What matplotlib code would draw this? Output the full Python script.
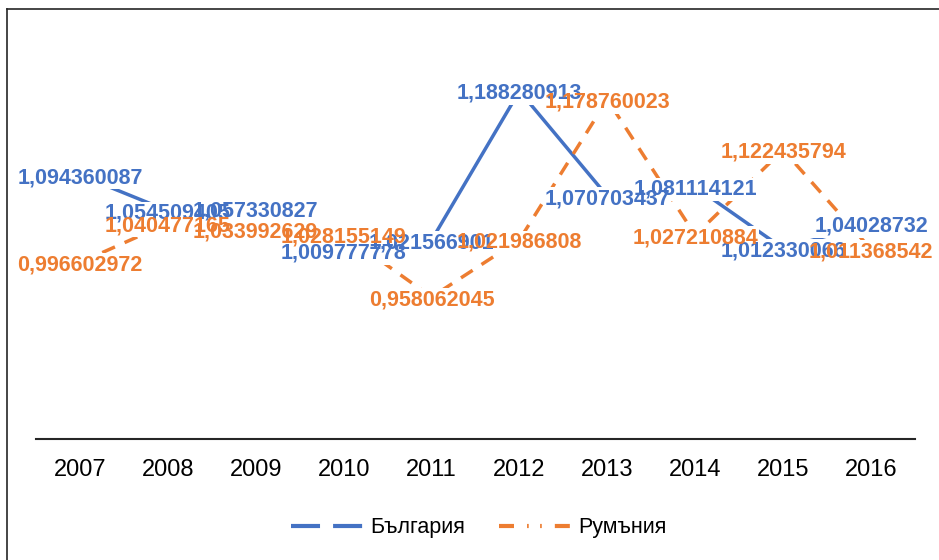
import matplotlib
matplotlib.use("Agg")
import matplotlib.pyplot as plt
from matplotlib.lines import Line2D

years = ["2007", "2008", "2009", "2010", "2011", "2012", "2013", "2014", "2015", "2016"]
bulgaria = [1.094360087, 1.054509405, 1.057330827, 1.009777778, 1.021566901,
            1.188280913, 1.070703437, 1.081114121, 1.012330066, 1.04028732]
romania = [0.996602972, 1.040477165, 1.033992629, 1.028155149, 0.958062045,
           1.021986808, 1.178760023, 1.027210884, 1.122435794, 1.011368542]
series_names = ["България", "Румъния"]

BLUE = "#4472C4"
ORANGE = "#ED7D31"
DARK = "#262626"

plt.rcParams["lines.scale_dashes"] = False


def fmt(v):
    s = f"{v:.9f}".rstrip("0").rstrip(".")
    return s.replace(".", ",")


fig = plt.figure(figsize=(9.39, 5.6), dpi=100)
ax = fig.add_axes([36 / 939, 121.5 / 560, 879 / 939, 402.75 / 560])

x = list(range(len(years)))
ax.plot(x, bulgaria, color=BLUE, lw=2.5, solid_capstyle="butt", zorder=2)
ax.plot(x, romania, color=ORANGE, lw=2.5, dashes=(10, 7.6), zorder=2)

label_font = dict(family=["Liberation Sans", "DejaVu Sans"], fontsize=15.5, fontweight="bold")
# white boxes first (they hide the lines), then the texts on top
for vals, col in [(bulgaria, BLUE), (romania, ORANGE)]:
    for xi, v in zip(x, vals):
        ax.text(xi, v, fmt(v), ha="center", va="center_baseline", color="none", zorder=3,
                bbox=dict(boxstyle="square,pad=0.05", fc="white", ec="none"), **label_font)
for vals, col in [(bulgaria, BLUE), (romania, ORANGE)]:
    for xi, v in zip(x, vals):
        ax.text(xi, v, fmt(v), ha="center", va="center_baseline", color=col, zorder=4,
                **label_font)

ax.set_xlim(-0.5, 9.5)
ax.set_ylim(0.8, 1.25)
ax.set_xticks(x)
ax.set_xticklabels(years, fontsize=17, family=["Liberation Sans Narrow", "Liberation Sans"])
ax.tick_params(axis="x", length=0, pad=15, colors="black")
ax.set_yticks([])
for side in ["top", "right", "left"]:
    ax.spines[side].set_visible(False)
ax.spines["bottom"].set_color(DARK)
ax.spines["bottom"].set_linewidth(1.5)

# legend
h_bg = Line2D([], [], color=BLUE, lw=3, dashes=(20.9, 9.4), solid_capstyle="round")
h_ro = Line2D([], [], color=ORANGE, lw=3, dashes=(10.8, 9.4, 1.2, 8.2, 1.2, 9.4))
fig.legend([h_bg, h_ro], series_names, loc="center", bbox_to_anchor=(0.51, 1 - 528 / 560),
           ncol=2, frameon=False, handlelength=3.3, handletextpad=0.35, columnspacing=1.6,
           prop=dict(family=["Liberation Sans Narrow", "Liberation Sans"], size=15.5))

# chart border (top and left edges)
fig.add_artist(Line2D([6.5 / 939, 1], [1 - 8.5 / 560, 1 - 8.5 / 560], color=DARK, lw=1.2))
fig.add_artist(Line2D([6.5 / 939, 6.5 / 939], [0, 1 - 8.5 / 560], color=DARK, lw=1.2))

fig.savefig("out.png", dpi=100)
